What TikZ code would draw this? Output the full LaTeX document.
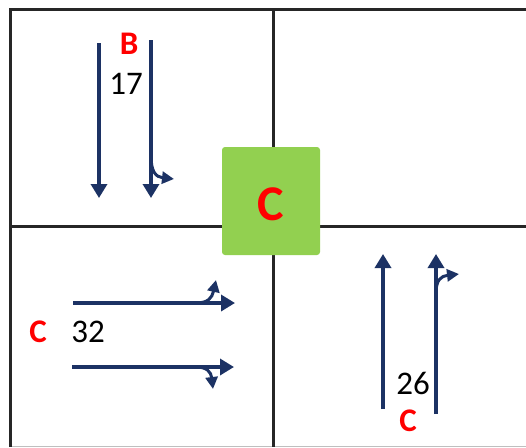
\documentclass[tikz,border=0pt]{standalone}
\usepackage{fontspec}
\setmainfont{Carlito}
\usetikzlibrary{arrows.meta}
\definecolor{navy}{HTML}{1C3264}
\definecolor{lightgreen}{HTML}{92D050}
\definecolor{redtxt}{HTML}{FF0000}
\tikzset{
  frameline/.style={line width=3pt, draw=black!85},
  lane/.style={draw=navy, line width=3.4pt, -{Triangle[length=14pt,width=16pt]}},
  turn/.style={draw=navy, line width=3pt, -{Triangle[length=12pt,width=12pt]}},
  numtxt/.style={font=\fontsize{33}{36}\selectfont, text=black, inner sep=0pt},
  lettxt/.style={font=\fontsize{33}{36}\selectfont\bfseries, text=redtxt, inner sep=0pt},
  greenbox/.style={fill=lightgreen, draw=none, rounded corners=3pt, minimum width=98pt, minimum height=108pt, inner sep=0pt}
}
\begin{document}
\begin{tikzpicture}[x=1pt,y=-1pt]
\useasboundingbox (0,0) rectangle (526,447);
% frame
\coordinate (tl) at (10,9);
\coordinate (tr) at (526,9);
\coordinate (bl) at (10,447);
\coordinate (mt) at (273,9);
\coordinate (mb) at (273,447);
\coordinate (ml) at (10,226);
\coordinate (mr) at (526,226);
\coordinate (gl) at (10,446.5);
\coordinate (gr) at (526,446.5);
\draw[draw=black!25, line width=1pt] (gl) -- (gr);
\draw[frameline] (bl) -- (tl) -- (tr);
\draw[frameline] (mt) -- (mb);
\draw[frameline] (ml) -- (mr);
% centre box
\node[greenbox] (box) at (271,201) {};
\node[font=\fontsize{50}{50}\selectfont\bfseries, text=redtxt, inner sep=0pt] (boxC) at (271,204) {C};
% top-left lanes
\coordinate (a1s) at (99,43);
\coordinate (a1e) at (99,198);
\coordinate (a2s) at (151,40);
\coordinate (a2e) at (151,198);
\coordinate (a2b) at (151,156);
\coordinate (a2t) at (174,179);
\draw[lane] (a1s) -- (a1e);
\draw[lane] (a2s) -- (a2e);
\draw[turn] (a2b) .. controls (151,172) and (156,177) .. (a2t);
\node[lettxt] (B) at (129,44) {B};
\node[numtxt] (n17) at (126,84) {17};
% bottom-left lanes
\coordinate (b1s) at (73,303);
\coordinate (b1e) at (235,303);
\coordinate (b1b) at (196,303);
\coordinate (b1t) at (216,280);
\coordinate (b2s) at (72,367);
\coordinate (b2e) at (234,367);
\coordinate (b2b) at (196,367);
\coordinate (b2t) at (213,389);
\draw[lane] (b1s) -- (b1e);
\draw[turn] (b1b) .. controls (208,303) and (212,298) .. (b1t);
\draw[lane] (b2s) -- (b2e);
\draw[turn] (b2b) .. controls (207,367) and (211,372) .. (b2t);
\node[lettxt] (CL) at (38,332) {C};
\node[numtxt] (n32) at (88,332) {32};
% bottom-right lanes
\coordinate (c1s) at (383,409);
\coordinate (c1e) at (383,254);
\coordinate (c2s) at (436,414);
\coordinate (c2e) at (436,254);
\coordinate (c2b) at (436,293);
\coordinate (c2t) at (459,274);
\draw[lane] (c1s) -- (c1e);
\draw[lane] (c2s) -- (c2e);
\draw[turn] (c2b) .. controls (436,280) and (441,276) .. (c2t);
\node[numtxt] (n26) at (413,383) {26};
\node[lettxt] (CB) at (408,421) {C};
\end{tikzpicture}
\end{document}
